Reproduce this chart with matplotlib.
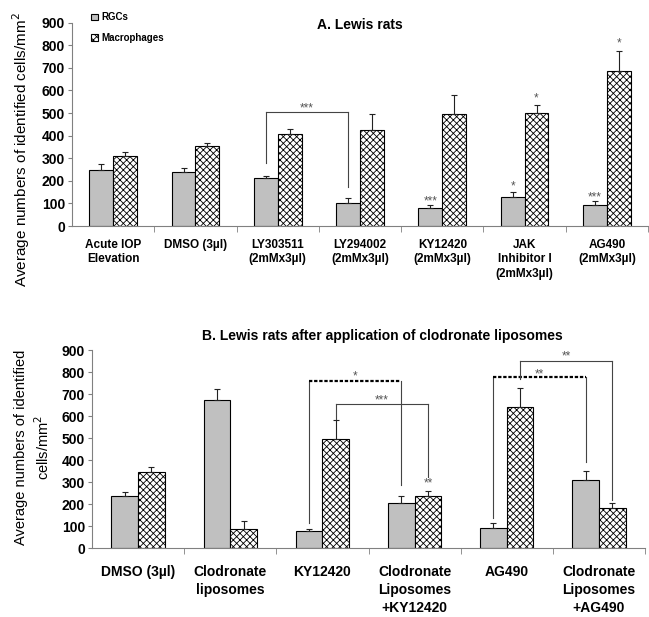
import numpy as np
import matplotlib
matplotlib.use('Agg')
import matplotlib.pyplot as plt

plt.rcParams['font.family'] = ['Liberation Sans', 'DejaVu Sans']
plt.rcParams['hatch.linewidth'] = 0.6

# ---- panel A data ----
cats_a = ['Acute IOP\nElevation', 'DMSO (3µl)', 'LY303511\n(2mMx3µl)', 'LY294002\n(2mMx3µl)',
          'KY12420\n(2mMx3µl)', 'JAK\nInhibitor I\n(2mMx3µl)', 'AG490\n(2mMx3µl)']
rgc_a = [248, 240, 214, 102, 78, 128, 94]
rgc_a_err = [25, 15, 8, 23, 15, 24, 17]
mac_a = [311, 353, 406, 424, 494, 499, 686]
mac_a_err = [18, 13, 22, 73, 86, 35, 87]
# (category, series, star text, star level)
stars_a = [(4, 'rgc', '***', 127), (5, 'rgc', '*', 192), (5, 'mac', '*', 584),
           (6, 'rgc', '***', 147), (6, 'mac', '*', 825)]
# (left bar, right bar, top level, left end, right end, dashed, text, text level)
brackets_a = [((2, 'rgc'), (3, 'rgc'), 503, 279, 174, False, '***', 541)]

# ---- panel B data ----
cats_b = ['DMSO (3µl)', 'Clodronate\nliposomes', 'KY12420', 'Clodronate\nLiposomes\n+KY12420',
          'AG490', 'Clodronate\nLiposomes\n+AG490']
rgc_b = [237, 673, 77, 206, 91, 308]
rgc_b_err = [20, 51, 11, 33, 22, 41]
mac_b = [348, 86, 495, 236, 640, 183]
mac_b_err = [19, 38, 87, 22, 86, 24]
stars_b = [(3, 'mac', '**', 314)]
brackets_b = [((2, 'rgc'), (3, 'rgc'), 759, 116, 287, True, '*', 801),
              ((2, 'mac'), (3, 'mac'), 655, 585, 325, False, '***', 688),
              ((4, 'rgc'), (5, 'rgc'), 776, 136, 393, True, '**', 809),
              ((4, 'mac'), (5, 'mac'), 850, 767, 219, False, '**', 892)]

W = 0.29
GRAY = '#808080'


def bar_x(cat, series):
    return cat - W / 2 if series == 'rgc' else cat + W / 2


def draw_panel(ax, cats, rgc, rgc_err, mac, mac_err, stars, brackets, xfs, xls, xpad):
    x = np.arange(len(cats))
    b1 = ax.bar(x - W / 2, rgc, W, color='#c0c0c0', edgecolor='black', linewidth=0.8, label='RGCs')
    b2 = ax.bar(x + W / 2, mac, W, color='white', edgecolor='black', linewidth=0.8,
                hatch='xxxxx', label='Macrophages')
    z = np.zeros(len(cats))
    ax.errorbar(x - W / 2, rgc, yerr=[z, rgc_err], fmt='none', ecolor='#222222',
                elinewidth=0.8, capsize=2.5, capthick=0.8)
    ax.errorbar(x + W / 2, mac, yerr=[z, mac_err], fmt='none', ecolor='#222222',
                elinewidth=0.8, capsize=2.5, capthick=0.8)

    for cat, ser, txt, lvl in stars:
        ax.annotate(txt, (bar_x(cat, ser), lvl), xytext=(0, -3), textcoords='offset points',
                    ha='center', va='center', fontsize=8.5, color='#555555')

    for (c1, s1), (c2, s2), top, e1, e2, dashed, txt, lvl in brackets:
        x1, x2 = bar_x(c1, s1), bar_x(c2, s2)
        ax.plot([x1, x1], [e1, top], color='#444444', lw=0.8)
        ax.plot([x2, x2], [e2, top], color='#444444', lw=0.8)
        if dashed:
            ax.plot([x1, x2], [top, top], color='black', lw=1.6, ls=(0, (1.5, 0.8)))
        else:
            ax.plot([x1, x2], [top, top], color='#444444', lw=0.8)
        ax.annotate(txt, ((x1 + x2) / 2, lvl), xytext=(0, -3), textcoords='offset points',
                    ha='center', va='center', fontsize=8.5, color='#555555')

    ax.set_xlim(-0.5, len(cats) - 0.5)
    ax.set_ylim(0, 900)
    ax.set_yticks(range(0, 901, 100))
    ax.set_xticks(x)
    ax.set_xticklabels(cats, fontsize=xfs, fontweight='bold', linespacing=xls)
    ax.set_xticks(np.arange(0.5, len(cats), 1), minor=True)
    ax.tick_params(axis='x', which='major', length=0, pad=xpad)
    ax.tick_params(axis='x', which='minor', length=4, color=GRAY, direction='out')
    ax.tick_params(axis='y', length=3, color=GRAY, labelsize=10, pad=2)
    for lab in ax.get_yticklabels():
        lab.set_fontweight('bold')
    for s in ['top', 'right']:
        ax.spines[s].set_visible(False)
    for s in ['left', 'bottom']:
        ax.spines[s].set_color(GRAY)
    return b1, b2


fig = plt.figure(figsize=(6.49, 6.17), dpi=100)
ax_a = fig.add_axes([0.111, 0.6337, 0.8875, 0.3295])
ax_b = fig.add_axes([0.1418, 0.1113, 0.852, 0.3214])

h1, h2 = draw_panel(ax_a, cats_a, rgc_a, rgc_a_err, mac_a, mac_a_err, stars_a, brackets_a,
                    8.5, 1.3, 9)
draw_panel(ax_b, cats_b, rgc_b, rgc_b_err, mac_b, mac_b_err, stars_b, brackets_b, 10, 1.38, 12)

ax_a.text(0.5, 0.99, 'A. Lewis rats', transform=ax_a.transAxes, ha='center', va='center',
          fontsize=10, fontweight='bold')
ax_b.text(0.525, 1.07, 'B. Lewis rats after application of clodronate liposomes',
          transform=ax_b.transAxes, ha='center', va='center', fontsize=10, fontweight='bold')

ax_a.legend([h1, h2], ['RGCs', 'Macrophages'], loc='upper left', bbox_to_anchor=(0.025, 1.075),
            frameon=False, handlelength=0.7, handleheight=0.7, handletextpad=0.3,
            labelspacing=1.05, borderpad=0, prop={'size': 7, 'weight': 'bold'})

fig.text(21 / 649, 1 - 150 / 617, 'Average numbers of identified cells/mm$^2$', rotation=90,
         ha='center', va='center', fontsize=11)
fig.text(33 / 649, 1 - 447 / 617, 'Average numbers of identified\ncells/mm$^2$', rotation=90,
         ha='center', va='center', fontsize=10.5, linespacing=1.4)

fig.savefig('out.png', dpi=100)
